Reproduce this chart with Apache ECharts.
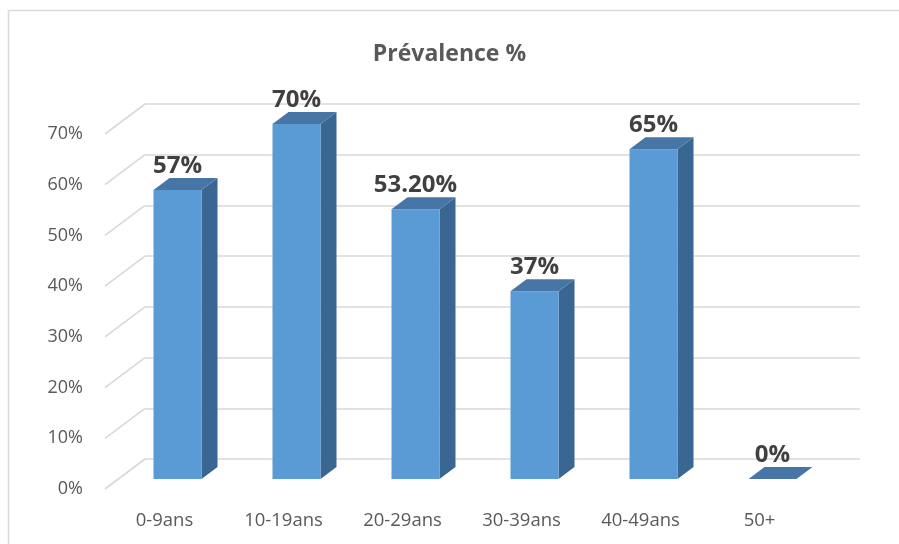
<!DOCTYPE html>
<html>
<head>
<meta charset="utf-8">
<script src="https://cdn.jsdelivr.net/npm/echarts@6/dist/echarts.min.js"></script>
<style>
  html, body { margin: 0; padding: 0; background: #ffffff; }
  #chart { width: 899px; height: 544px; }
</style>
</head>
<body>
<div id="chart"></div>
<script>
// Age groups and prevalence (%) per group
const categories = ['0-9ans', '10-19ans', '20-29ans', '30-39ans', '40-49ans', '50+'];
const prevalence = [57, 70, 53.2, 37, 65, 0];
const tickValues = [0, 10, 20, 30, 40, 50, 60, 70];

// Pseudo-3D depth: front plane -> bar plane -> back wall
const DEPTH_X = 40, DEPTH_Y = -30;   // floor depth (front edge to back wall)
const BAR_W = 48, BAR_DX = 16, BAR_DY = -12; // bar front width and depth

const FONT = '"Open Sans", "Noto Sans", sans-serif';
const TEXT_GREY = '#595959';
const GRID_GREY = '#d9d9d9';

function fmtPct(v) {
  return Number.isInteger(v) ? v + '%' : v.toFixed(2) + '%';
}

const chart = echarts.init(document.getElementById('chart'), null, { renderer: 'canvas' });

const yBase = { type: 'value', min: 0, max: 70, interval: 10 };

chart.setOption({
  animation: false,
  backgroundColor: '#ffffff',
  title: {
    text: 'Prévalence %',
    left: 'center',
    top: 38,
    textStyle: { fontFamily: FONT, fontSize: 23, fontWeight: 'bold', color: TEXT_GREY }
  },
  graphic: [{
    type: 'rect',
    shape: { x: 8.5, y: 10.5, width: 900, height: 540 },
    style: { fill: 'none', stroke: GRID_GREY, lineWidth: 1.5 },
    silent: true,
    z: -10
  }],
  grid: [
    // front plane (axis labels)
    { left: 105, top: 134, width: 714, height: 355 },
    // bar plane
    { left: 118, top: 124, width: 714, height: 355 },
    // back wall
    { left: 145, top: 104, width: 715, height: 355 }
  ],
  xAxis: [
    {
      gridIndex: 0, type: 'category', data: categories,
      axisLine: { show: false }, axisTick: { show: false },
      axisLabel: { margin: 22, fontFamily: FONT, fontSize: 18.5, color: TEXT_GREY }
    },
    { gridIndex: 1, type: 'category', data: categories, show: false },
    { gridIndex: 2, type: 'category', data: categories, show: false }
  ],
  yAxis: [
    Object.assign({}, yBase, {
      gridIndex: 0,
      axisLine: { show: false }, axisTick: { show: false }, splitLine: { show: false },
      axisLabel: { margin: 22, fontFamily: FONT, fontSize: 18, color: TEXT_GREY, formatter: '{value}%' }
    }),
    Object.assign({}, yBase, { gridIndex: 1, show: false }),
    Object.assign({}, yBase, {
      gridIndex: 2,
      axisLine: { show: false }, axisTick: { show: false }, axisLabel: { show: false },
      splitLine: { show: true, lineStyle: { color: GRID_GREY, width: 1.6 } }
    })
  ],
  series: [
    {
      // floor-side diagonals running from the front edge back to the wall
      type: 'custom',
      xAxisIndex: 0, yAxisIndex: 0,
      data: tickValues.map(v => [0, v]),
      silent: true,
      z: 1,
      renderItem: function (params, api) {
        const x0 = params.coordSys.x;
        const y0 = api.coord([0, api.value(1)])[1];
        return {
          type: 'line',
          shape: { x1: x0, y1: y0, x2: x0 + DEPTH_X, y2: y0 + DEPTH_Y },
          style: { stroke: GRID_GREY, lineWidth: 1.6 }
        };
      }
    },
    {
      // 3D bars with value labels
      type: 'custom',
      xAxisIndex: 1, yAxisIndex: 1,
      data: prevalence.map((v, i) => [i, v]),
      z: 5,
      renderItem: function (params, api) {
        const v = api.value(1);
        const base = api.coord([api.value(0), 0]);
        const top = api.coord([api.value(0), v]);
        const x0 = base[0] - BAR_W / 2;
        const x1 = base[0] + BAR_W / 2;
        const yb = base[1];
        const yt = top[1];
        const children = [];
        if (yb - yt > 0.5) {
          children.push({
            type: 'polygon',
            shape: { points: [[x1, yt], [x1 + BAR_DX, yt + BAR_DY], [x1 + BAR_DX, yb + BAR_DY], [x1, yb]] },
            style: { fill: '#3a6791' }
          });
          children.push({
            type: 'rect',
            shape: { x: x0, y: yt, width: BAR_W, height: yb - yt },
            style: { fill: '#5b9bd5' }
          });
        }
        children.push({
          type: 'polygon',
          shape: { points: [[x0, yt], [x1, yt], [x1 + BAR_DX, yt + BAR_DY], [x0 + BAR_DX, yt + BAR_DY]] },
          style: { fill: '#4776a6' }
        });
        children.push({
          type: 'text',
          style: {
            x: base[0],
            y: yt + BAR_DY - 12,
            text: fmtPct(v),
            align: 'center',
            verticalAlign: 'middle',
            fontFamily: FONT,
            fontSize: 24,
            fontWeight: 'bold',
            fill: '#404040'
          }
        });
        return { type: 'group', children: children };
      }
    },
    {
      // empty series keeping the back-wall grid active
      type: 'line',
      xAxisIndex: 2, yAxisIndex: 2,
      data: [],
      silent: true
    }
  ]
});
</script>
</body>
</html>
